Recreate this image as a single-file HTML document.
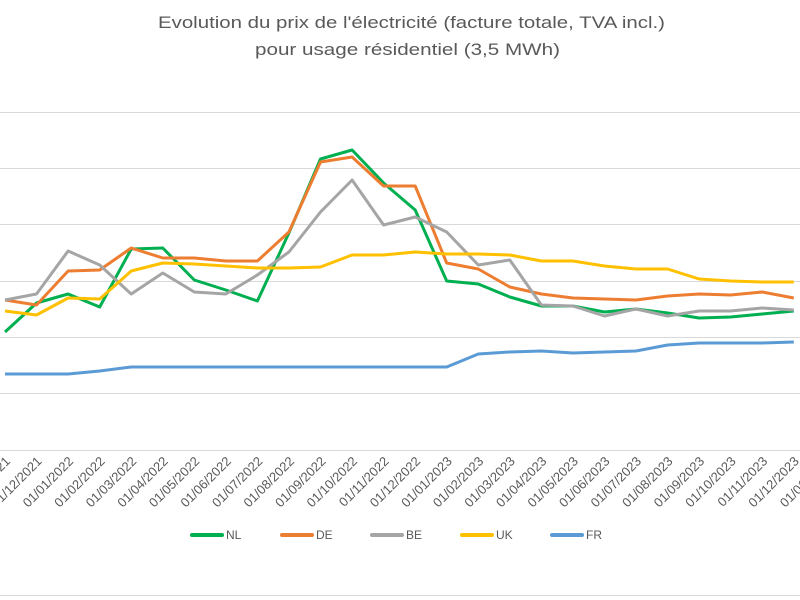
<!DOCTYPE html>
<html><head><meta charset="utf-8"><style>
html,body{margin:0;padding:0;background:#fff;width:800px;height:600px;overflow:hidden}
svg{display:block}
text{font-family:"Liberation Sans",sans-serif;fill:#595959}
</style></head><body>
<svg width="800" height="600" viewBox="0 0 800 600" xmlns="http://www.w3.org/2000/svg">
<text x="158" y="28" font-size="17" textLength="507" lengthAdjust="spacingAndGlyphs">Evolution du prix de l'électricité (facture totale, TVA incl.)</text>
<text x="255" y="55" font-size="17" textLength="305" lengthAdjust="spacingAndGlyphs">pour usage résidentiel (3,5 MWh)</text>
<g stroke="#d9d9d9" stroke-width="1">
<line x1="0" y1="112.5" x2="800" y2="112.5"/>
<line x1="0" y1="168.5" x2="800" y2="168.5"/>
<line x1="0" y1="224.5" x2="800" y2="224.5"/>
<line x1="0" y1="281.5" x2="800" y2="281.5"/>
<line x1="0" y1="337.5" x2="800" y2="337.5"/>
<line x1="0" y1="393.5" x2="800" y2="393.5"/>
<line x1="0" y1="450.5" x2="800" y2="450.5"/>
<line x1="0" y1="595.5" x2="800" y2="595.5"/>
</g>
<g id="lines" fill="none" stroke-width="3" stroke-linejoin="round"></g>
<g id="labels" font-size="13"></g>
<g stroke-width="4" stroke-linecap="round">
<line x1="192" y1="535" x2="222" y2="535" stroke="#00b050"/>
<line x1="282" y1="535" x2="312" y2="535" stroke="#ed7d31"/>
<line x1="372" y1="535" x2="402" y2="535" stroke="#a5a5a5"/>
<line x1="462" y1="535" x2="492" y2="535" stroke="#ffc000"/>
<line x1="552" y1="535" x2="582" y2="535" stroke="#5b9bd5"/>
</g>
<g font-size="12">
<text x="226" y="539">NL</text>
<text x="316" y="539">DE</text>
<text x="406" y="539">BE</text>
<text x="496" y="539">UK</text>
<text x="586" y="539">FR</text>
</g>
</svg>
<script>
var ns="http://www.w3.org/2000/svg";
function X(i){return 5+31.55*i;}
var data={
"#00b050":[332,303,294,307,249,248,280,290,301,233,159,150,183,210,281,284,297,306,306,312,309,313,318,317,314,311],
"#ed7d31":[300,305,271,270,248,258,258,261,261,232,162,157,186,186,263,269,287,294,298,299,300,296,294,295,292,298],
"#a5a5a5":[300,294,251,265,294,273,292,294,275,252,212,180,225,217,232,265,260,305,306,316,309,316,311,311,308,310],
"#ffc000":[311,315,298,299,271,263,264,266,268,268,267,255,255,252,254,254,255,261,261,266,269,269,279,281,282,282],
"#5b9bd5":[374,374,374,371,367,367,367,367,367,367,367,367,367,367,367,354,352,351,353,352,351,345,343,343,343,342]
};
var g=document.getElementById("lines");
for(var c in data){var p=data[c].map(function(y,i){return X(i).toFixed(1)+","+y;}).join(" ");
var pl=document.createElementNS(ns,"polyline");pl.setAttribute("points",p);pl.setAttribute("stroke",c);g.appendChild(pl);}
var lg=document.getElementById("labels");
for(var i=0;i<27;i++){var m=(10+i)%12+1,y=2021+Math.floor((10+i)/12);
var t=document.createElementNS(ns,"text");var x=X(i)+6,yy=462;
t.setAttribute("x",x);t.setAttribute("y",yy);t.setAttribute("text-anchor","end");
t.setAttribute("transform","rotate(-45 "+x+" "+yy+")");
t.textContent="01/"+(m<10?"0"+m:m)+"/"+y;lg.appendChild(t);}
</script>
</body></html>
